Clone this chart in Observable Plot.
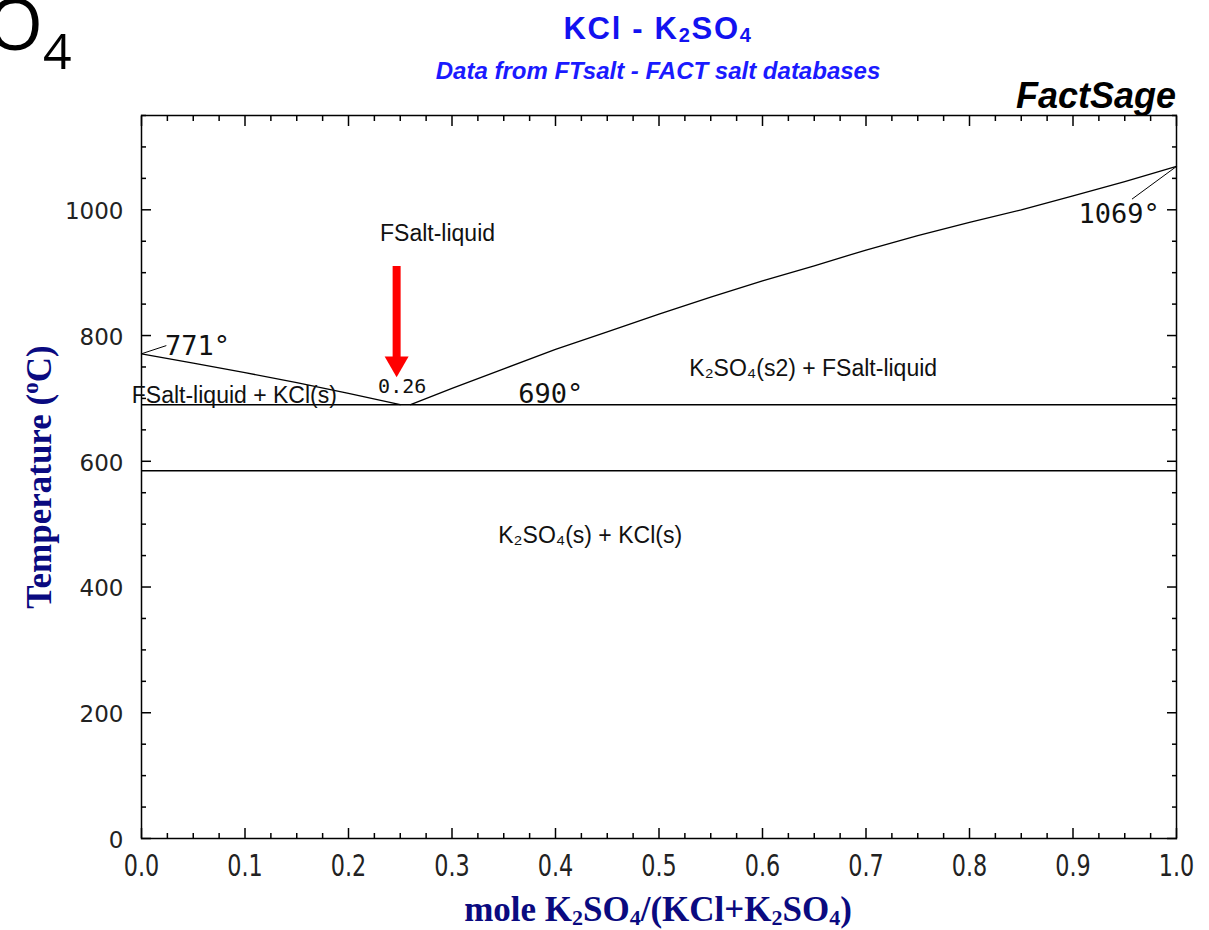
<!DOCTYPE html>
<html><head><meta charset="utf-8">
<script src="https://cdn.jsdelivr.net/npm/d3@7"></script>
<script src="https://cdn.jsdelivr.net/npm/@observablehq/plot@0.6"></script>
<style>
html,body{margin:0;padding:0;background:#fff;}
#wrap{position:relative;width:1209px;height:930px;overflow:hidden;background:#fff;}
#chart{position:absolute;left:0;top:0;}
.abs{position:absolute;white-space:nowrap;line-height:1;}
#corner{left:-13px;top:-14px;font-family:"Open Sans","Noto Sans",sans-serif;font-size:72px;color:#000;}
#corner sub{font-size:50px;vertical-align:-0.38em;}
#title{left:408px;width:500px;top:13px;text-align:center;font-family:"Liberation Sans",Arial,sans-serif;font-weight:bold;font-size:31px;letter-spacing:1.7px;color:#1212f0;}
#title sub{font-size:20px;vertical-align:-0.15em;}
#subtitle{left:308px;width:700px;top:59px;text-align:center;font-family:"Liberation Sans",Arial,sans-serif;font-weight:bold;font-style:italic;font-size:24px;color:#1a1aff;}
#brand{right:33px;top:78px;font-family:"Liberation Sans",Arial,sans-serif;font-weight:bold;font-style:italic;font-size:36px;color:#000;}
#xtitle{left:308px;width:700px;top:892px;text-align:center;font-family:"Liberation Serif","Times New Roman",serif;font-weight:bold;font-size:35px;color:#0a0a80;}
#xtitle sub{font-size:22px;vertical-align:-0.2em;}
#ytitle{left:38px;top:477px;transform:translate(-50%,-50%) rotate(-90deg);font-family:"Liberation Serif","Times New Roman",serif;font-weight:bold;font-size:35px;color:#0a0a80;}
#ytitle sup{font-size:23px;vertical-align:0.55em;}
</style></head><body>
<div id="wrap">
  <div id="chart"></div>
  <div class="abs" id="corner">O<sub>4</sub></div>
  <div class="abs" id="title">KCl - K<sub>2</sub>SO<sub>4</sub></div>
  <div class="abs" id="subtitle">Data from FTsalt - FACT salt databases</div>
  <div class="abs" id="brand">FactSage</div>
  <div class="abs" id="xtitle">mole K<sub>2</sub>SO<sub>4</sub>/(KCl+K<sub>2</sub>SO<sub>4</sub>)</div>
  <div class="abs" id="ytitle">Temperature (<sup>o</sup>C)</div>
</div>
<script>
// Liquidus, KCl-rich branch
const xKClBranch = [0, 0.05, 0.1, 0.15, 0.2, 0.25];
const tKClBranch = [771, 756, 741, 725, 708, 690];
// Liquidus, K2SO4-rich branch
const xK2SO4Branch = [0.26, 0.3, 0.35, 0.4, 0.45, 0.5, 0.55, 0.6, 0.65, 0.7, 0.75, 0.8, 0.85, 0.9, 0.95, 1.0];
const tK2SO4Branch = [690, 716, 747, 778, 806, 834, 861, 887, 911, 936, 959, 980, 1000, 1022, 1045, 1069];
// Isotherms (eutectic and K2SO4 transition)
const isoT = [690, 585];
// Leader lines for the melting points
const leaderX1 = [0, 1];
const leaderT1 = [771, 1069];
const leaderX2 = [0.024, 0.957];
const leaderT2 = [784, 1017];
// Region labels
const regionText = ["FSalt-liquid", "FSalt-liquid + KCl(s)", "K\u2082SO\u2084(s2) + FSalt-liquid", "K\u2082SO\u2084(s) + KCl(s)"];
const regionX = [0.286, 0.0897, 0.649, 0.4335];
const regionT = [962, 704.6, 747.6, 482];
// Temperature / composition annotations
const noteText = ["771\u00b0", "690\u00b0", "1069\u00b0"];
const noteX = [0.0226, 0.364, 0.9053];
const noteT = [782.6, 706, 992.5];
const eutecticText = ["0.26"];
const eutecticX = [0.2286];
const eutecticT = [719];
// Red arrow pointing to the eutectic
const arrowX = [0.2465];
const arrowTopT = 910;
const arrowShaftEndT = 765;
const arrowHeadT = 755.5;
// Ticks
const xMajor = [0, 0.1, 0.2, 0.3, 0.4, 0.5, 0.6, 0.7, 0.8, 0.9, 1.0];
const xMinor = d3.range(0, 41).map(i => i / 40).filter(v => Math.abs(v * 10 - Math.round(v * 10)) > 1e-6);
const yMajor = [0, 200, 400, 600, 800, 1000];
const yMinor = d3.range(0, 24).map(i => i * 50).filter(v => v % 200 !== 0);

const kclBranch = xKClBranch.map((x, i) => ({x, t: tKClBranch[i]}));
const k2so4Branch = xK2SO4Branch.map((x, i) => ({x, t: tK2SO4Branch[i]}));
const leaders = leaderX1.map((x, i) => ({x1: x, t1: leaderT1[i], x2: leaderX2[i], t2: leaderT2[i]}));
const regions = regionText.map((text, i) => ({text, x: regionX[i], t: regionT[i]}));
const notes = noteText.map((text, i) => ({text, x: noteX[i], t: noteT[i]}));
const eut = eutecticText.map((text, i) => ({text, x: eutecticX[i], t: eutecticT[i]}));

const tickAxis = (fn, anchor, ticks, size) => fn({anchor, ticks, tickSize: size, fill: "none", label: null, stroke: "#000", strokeWidth: 1.5});

const chart = Plot.plot({
  width: 1209, height: 930,
  marginLeft: 141, marginRight: 33, marginTop: 115, marginBottom: 92,
  x: {domain: [0, 1]},
  y: {domain: [0, 1150]},
  style: {background: "transparent", color: "#000", fontFamily: "'Liberation Sans', Arial, sans-serif", overflow: "visible"},
  marks: [
    Plot.frame({stroke: "#000", strokeWidth: 1.5}),
    tickAxis(Plot.axisX, "bottom", xMajor, -10),
    tickAxis(Plot.axisX, "bottom", xMinor, -5),
    tickAxis(Plot.axisX, "top", xMajor, -10),
    tickAxis(Plot.axisX, "top", xMinor, -5),
    tickAxis(Plot.axisY, "left", yMajor, -10),
    tickAxis(Plot.axisY, "left", yMinor, -5),
    tickAxis(Plot.axisY, "right", yMajor, -10),
    tickAxis(Plot.axisY, "right", yMinor, -5),
    Plot.axisX({anchor: "bottom", ticks: xMajor, tickSize: 0, tickPadding: 15, tickFormat: d3.format(".1f"), label: null,
      fontSize: 31, fontFamily: "'DejaVu Sans', sans-serif", fill: "#222"}),
    Plot.axisY({anchor: "left", ticks: yMajor, tickSize: 0, tickPadding: 18, label: null, dy: 2, tickFormat: d3.format("d"),
      fontSize: 23, fontFamily: "'DejaVu Sans', sans-serif", fill: "#222"}),
    Plot.ruleY(isoT, {x1: 0, x2: 1, y: d => d, stroke: "#000", strokeWidth: 1.5}),
    Plot.line(kclBranch, {x: "x", y: "t", stroke: "#000", strokeWidth: 1.3}),
    Plot.line(k2so4Branch, {x: "x", y: "t", stroke: "#000", strokeWidth: 1.3}),
    Plot.link(leaders, {x1: "x1", y1: "t1", x2: "x2", y2: "t2", stroke: "#000", strokeWidth: 1}),
    Plot.text(regions, {x: "x", y: "t", text: "text", fontSize: 23, fill: "#111", fontFamily: "'Liberation Sans', Arial, sans-serif"}),
    Plot.text(notes, {x: "x", y: "t", text: "text", textAnchor: "start", fontSize: 27, fill: "#111", fontFamily: "'DejaVu Sans Mono', monospace"}),
    Plot.text(eut, {x: "x", y: "t", text: "text", textAnchor: "start", fontSize: 20, fill: "#111", fontFamily: "'DejaVu Sans Mono', monospace"}),
    Plot.ruleX(arrowX, {x: d => d, y1: arrowTopT, y2: arrowShaftEndT, stroke: "#ff0000", strokeWidth: 8}),
    Plot.dot(arrowX, {x: d => d, y: arrowHeadT, symbol: "triangle", r: 8.9, rotate: 180, fill: "#ff0000", stroke: "none"})
  ]
});
// condense the x tick labels like the reference's narrow digits
chart.querySelectorAll('[aria-label="x-axis tick label"] text').forEach(t => {
  const tr = t.getAttribute("transform") || "";
  t.setAttribute("transform", tr + " scale(0.72,1)");
});
document.getElementById("chart").appendChild(chart);
</script>
</body></html>
